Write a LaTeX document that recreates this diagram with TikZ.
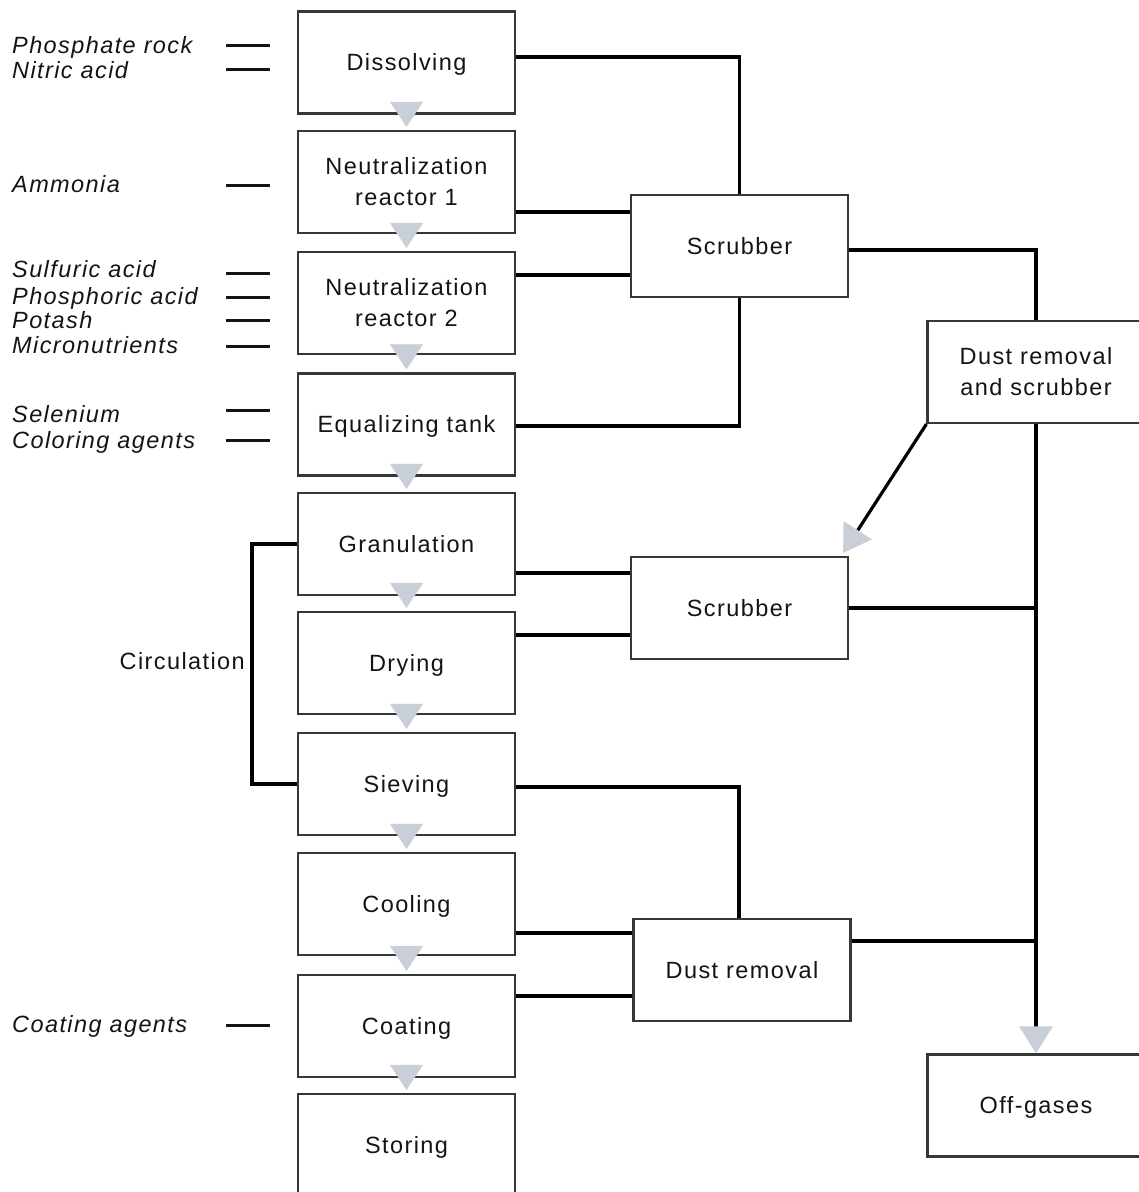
\documentclass[tikz,border=0pt]{standalone}
\usepackage{fontspec}
\setmainfont{Liberation Sans}[LetterSpace=6]
\usetikzlibrary{arrows.meta}
\definecolor{tipgray}{RGB}{200,207,217}
\definecolor{boxline}{RGB}{55,55,55}
\definecolor{ink}{RGB}{20,20,20}
\begin{document}
\begin{tikzpicture}[x=1pt,y=-1pt,
  every node/.style={text=ink,font=\fontsize{23.5}{31}\selectfont},
  stage/.style={draw=boxline,line width=2.2pt,fill=white,minimum width=217pt,minimum height=102pt,align=center,inner sep=0pt},
  oneline/.style={text height=16.8pt,text depth=0pt},
  conn/.style={draw=black,line width=3.2pt},
  feed/.style={draw=ink,line width=3pt},
  inlabel/.style={inner sep=0pt,text height=16.8pt,text depth=0pt,anchor=west,font=\fontsize{23.5}{31}\selectfont\itshape},
  flow/.style={draw=tipgray,line width=0.4pt,-{Triangle[width=33pt,length=25pt,color=tipgray]}},
  gastip/.style={-{Triangle[width=33pt,length=27pt,color=tipgray]}}
]
\clip (0,0) rectangle (1139,1192);

% main process column
\node[stage,oneline] (dis) at (406.5,62.5) {Dissolving};
\node[stage] (nr1) at (406.5,182) {Neutralization\\reactor 1};
\node[stage] (nr2) at (406.5,303) {Neutralization\\reactor 2};
\node[stage,oneline] (eq) at (406.5,424.5) {Equalizing tank};
\node[stage,oneline] (gra) at (406.5,544) {Granulation};
\node[stage,oneline] (dry) at (406.5,663) {Drying};
\node[stage,oneline] (sie) at (406.5,784) {Sieving};
\node[stage,oneline] (coo) at (406.5,904) {Cooling};
\node[stage,oneline] (coa) at (406.5,1026) {Coating};
\node[stage,oneline] (sto) at (406.5,1145) {Storing};

% gas treatment units
\node[stage,oneline] (sc1) at (739.5,246) {Scrubber};
\node[stage,oneline] (sc2) at (739.5,608) {Scrubber};
\node[stage,oneline] (dr) at (742,970) {Dust removal};
\node[stage] (drs) at (1036,372) {Dust removal\\and scrubber};
\node[stage,oneline] (off) at (1036,1105.5) {Off-gases};

% flow markers between consecutive stages
\foreach \a/\b in {dis/nr1,nr1/nr2,nr2/eq,eq/gra,gra/dry,dry/sie,sie/coo,coo/coa,coa/sto}
  \draw[flow] ([yshift=10pt]\a.south) -- ([yshift=3pt]\b.north);

% gas lines to the first scrubber
\coordinate (g1) at ([yshift=5.5pt]dis.east);
\coordinate (g2) at ([yshift=-30pt]nr1.east);
\coordinate (g3) at ([yshift=28pt]nr2.east);
\coordinate (g4) at ([yshift=-1.5pt]eq.east);
\draw[conn] (g1) -| (sc1.north);
\draw[conn] (g2) -- (g2 -| sc1.west);
\draw[conn] (g3) -- (g3 -| sc1.west);
\draw[conn] (g4) -| (sc1.south);
\coordinate (s1) at ([yshift=-4pt]sc1.east);
\draw[conn] (s1) -| (drs.north);

% gas lines to the second scrubber
\coordinate (g5) at ([yshift=-29pt]gra.east);
\coordinate (g6) at ([yshift=28pt]dry.east);
\draw[conn] (g5) -- (g5 -| sc2.west);
\draw[conn] (g6) -- (g6 -| sc2.west);
\draw[conn] (sc2.east) -- (sc2.east -| drs.south);

% dust lines
\coordinate (g7) at ([yshift=-3pt]sie.east);
\coordinate (g8) at ([yshift=-29pt]coo.east);
\coordinate (g9) at ([yshift=30pt]coa.east);
\draw[conn] (g7) -| ([xshift=-3pt]dr.north);
\draw[conn] (g8) -- (g8 -| dr.west);
\draw[conn] (g9) -- (g9 -| dr.west);
\coordinate (s3) at ([yshift=29pt]dr.east);
\draw[conn] (s3) -- (s3 -| drs.south);

% collector to off-gases and return branch
\draw[conn,gastip] (drs.south) -- (off.north);
\draw[conn,gastip] (drs.south west) -- ([xshift=-6pt,yshift=3pt]sc2.north east);

% circulation loop
\draw[conn] (gra.west) -- ++(-45,0) coordinate (c1) |- (sie.west);
\node[inner sep=0pt,oneline,anchor=east] (circ) at (245,661) {Circulation};

% raw material inputs
\foreach \t/\ty/\dy [count=\i] in {Phosphate rock/45/45, Nitric acid/70/69, Ammonia/184/185,
    Sulfuric acid/269/273, Phosphoric acid/296/297, Potash/320/320, Micronutrients/345/346,
    Selenium/414/410, Coloring agents/440/440, Coating agents/1024/1025}{
  \node[inlabel] (in\i) at (12,\ty) {\t};
  \draw[feed] (226,\dy) -- (270,\dy);
}
\end{tikzpicture}
\end{document}
